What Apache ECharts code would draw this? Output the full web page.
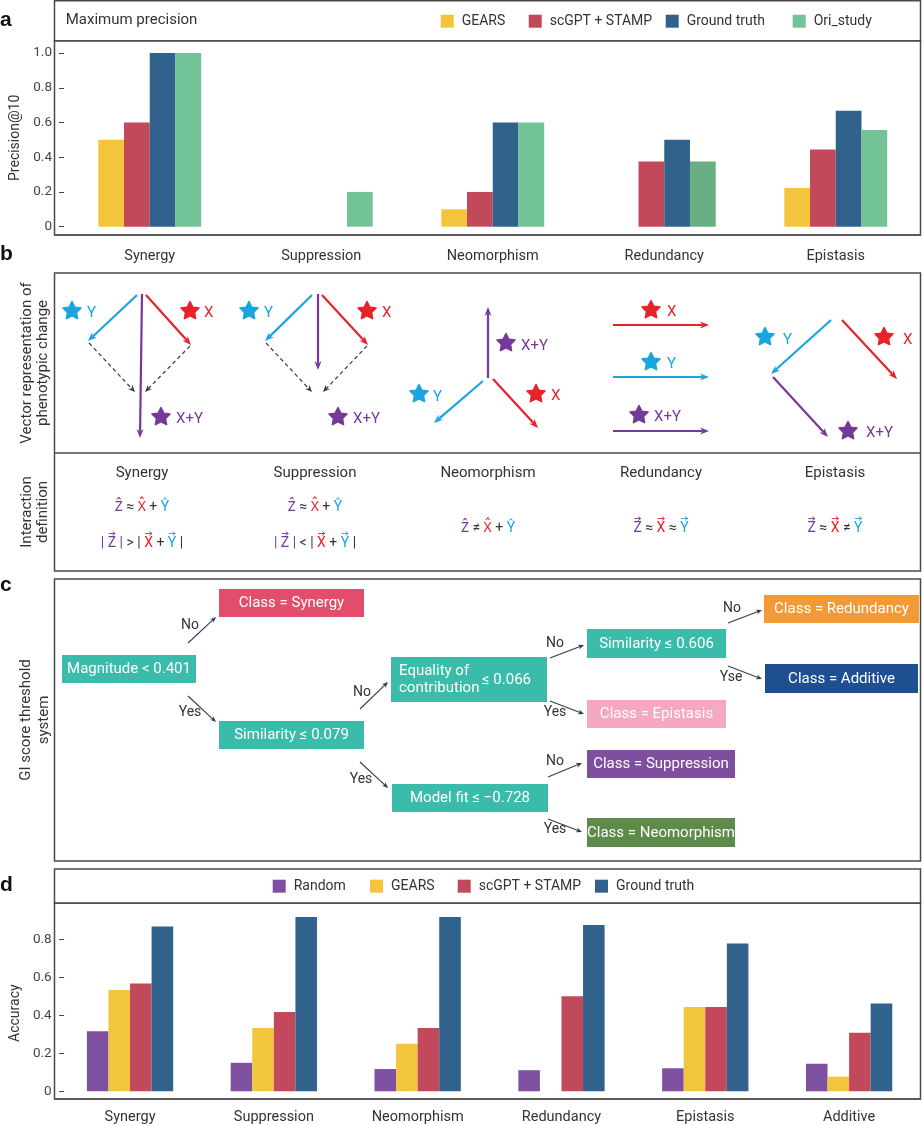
<!DOCTYPE html>
<html><head><meta charset="utf-8">
<script src="https://cdn.jsdelivr.net/npm/echarts@6/dist/echarts.min.js"></script>
<style>html,body{margin:0;padding:0;background:#fff}#c{width:922px;height:1125px}</style>
</head><body><div id="c"></div>
<script>
// ---- data: panel a ----
const catsA = ['Synergy', 'Suppression', 'Neomorphism', 'Redundancy', 'Epistasis'];
const gearsA = [0.5, 0, 0.1, 0, 0.222];
const scgptA = [0.6, 0, 0.2, 0.375, 0.444];
const truthA = [1.0, 0, 0.6, 0.5, 0.667];
const oriA = [1.0, 0.2, 0.6, 0.375, 0.556];
const ticksA = [0, 0.2, 0.4, 0.6, 0.8, 1.0];
// ---- data: panel d ----
const catsD = ['Synergy', 'Suppression', 'Neomorphism', 'Redundancy', 'Epistasis', 'Additive'];
const randomD = [0.316, 0.15, 0.117, 0.111, 0.121, 0.145];
const gearsD = [0.533, 0.333, 0.25, 0, 0.444, 0.077];
const scgptD = [0.567, 0.417, 0.333, 0.5, 0.444, 0.308];
const truthD = [0.867, 0.917, 0.917, 0.875, 0.778, 0.462];
const ticksD = [0, 0.2, 0.4, 0.6, 0.8];

const FONT = 'Roboto, "Noto Sans", sans-serif';
const COL = {gears: '#f2c53d', scgpt: '#c2485b', truth: '#31628c', ori: '#72c395', random: '#7e51a0'};
const PUR = '#76389a', RED = '#e8222a', BLU = '#19a5e0', DARK = '#333';
const TEAL = '#3bbcab';
const BORDER = '#4a4a4a';

function fmt(v) { return v === 0 ? '0' : v.toFixed(1); }

const G = [];
function txt(x, y, text, o) {
  o = o || {};
  G.push({type: 'text', x: x, y: y, rotation: o.rot || 0, z: 10,
    style: {text: text, fill: o.color || DARK, font: (o.weight || 'normal') + ' ' + (o.size || 14) + 'px ' + (o.family || FONT),
      align: o.align || 'center', verticalAlign: 'middle', lineHeight: o.lh || undefined}});
}
function box(x1, y1, x2, y2, lw) {
  G.push({type: 'rect', z: 5, shape: {x: x1, y: y1, width: x2 - x1, height: y2 - y1},
    style: {fill: 'none', stroke: BORDER, lineWidth: lw || 1.5}});
}
function hline(x1, x2, y, lw, col) {
  G.push({type: 'line', z: 6, shape: {x1: x1, y1: y, x2: x2, y2: y}, style: {stroke: col || '#5a5a5a', lineWidth: lw}});
}
function arrow(x1, y1, x2, y2, color, w, L, H, dash) {
  const dx = x2 - x1, dy = y2 - y1, len = Math.hypot(dx, dy), ux = dx / len, uy = dy / len;
  const bx = x2 - ux * L, by = y2 - uy * L;
  G.push({type: 'line', z: 8, shape: {x1: x1, y1: y1, x2: bx + ux * L * 0.3, y2: by + uy * L * 0.3},
    style: {stroke: color, lineWidth: w, lineDash: dash || null}});
  G.push({type: 'polygon', z: 8, shape: {points: [[x2, y2], [bx - uy * H, by + ux * H], [bx + ux * L * 0.3, by + uy * L * 0.3], [bx + uy * H, by - ux * H]]},
    style: {fill: color}});
}
function star(cx, cy, color, R) {
  R = R || 9.5;
  const pts = [];
  for (let i = 0; i < 10; i++) {
    const r = i % 2 === 0 ? R : R * 0.5;
    const a = -Math.PI / 2 + i * Math.PI / 5;
    pts.push([cx + r * Math.cos(a), cy + r * Math.sin(a)]);
  }
  G.push({type: 'polygon', z: 8, shape: {points: pts}, style: {fill: color, stroke: color, lineWidth: 1.5, lineJoin: 'round'}});
}
function slabel(x, y, t, color) { txt(x, y, t, {color: color, align: 'left', size: 15}); }
function fbox(x1, y1, x2, y2, fill, text) {
  G.push({type: 'rect', z: 7, shape: {x: x1, y: y1, width: x2 - x1, height: y2 - y1}, style: {fill: fill}});
  if (text) txt((x1 + x2) / 2, (y1 + y2) / 2 + 0.5, text, {color: '#fff', size: 15});
}
function farrow(x1, y1, x2, y2) { arrow(x1, y1, x2, y2, '#2e3d55', 1.1, 6, 2.6); }

// formula layout: pieces [text, color, isVector]
const mctx = document.createElement('canvas').getContext('2d');
const FSZ = 14;
mctx.font = FSZ + 'px ' + FONT;
function formula(cx, cy, pieces) {
  const widths = pieces.map(p => mctx.measureText(p[0]).width);
  const W = widths.reduce((a, b) => a + b, 0);
  let x = cx - W / 2;
  pieces.forEach((p, i) => {
    G.push({type: 'text', x: x, y: cy, z: 10,
      style: {text: p[0], fill: p[1], font: FSZ + 'px ' + FONT, align: 'left', verticalAlign: 'middle'}});
    if (p[2]) {
      const w = widths[i];
      const ay = cy - 9.5;
      G.push({type: 'line', z: 10, shape: {x1: x + 1, y1: ay, x2: x + w - 1, y2: ay}, style: {stroke: p[1], lineWidth: 0.9}});
      G.push({type: 'polyline', z: 10, shape: {points: [[x + w - 3.5, ay - 2], [x + w - 1, ay], [x + w - 3.5, ay + 2]]}, style: {stroke: p[1], lineWidth: 0.9, fill: 'none'}});
    }
    x += widths[i];
  });
}

// panel letters
const LF = '"Liberation Sans", Arial, sans-serif';
txt(0, 20, 'a', {align: 'left', weight: 'bold', size: 21, family: LF, color: '#111'});
txt(0, 254, 'b', {align: 'left', weight: 'bold', size: 21, family: LF, color: '#111'});
txt(0, 585, 'c', {align: 'left', weight: 'bold', size: 21, family: LF, color: '#111'});
txt(0, 885, 'd', {align: 'left', weight: 'bold', size: 21, family: LF, color: '#111'});

// panel a frames
box(54.5, 0.8, 920.5, 40.7);
box(54.5, 40.7, 920.5, 235);
hline(54.5, 920.5, 235, 2.2);
txt(65.7, 20.5, 'Maximum precision', {align: 'left', size: 15});

// panel b frame
box(54.5, 273, 920.5, 571);
hline(54.5, 920.5, 453, 1.5, BORDER);
txt(35, 363, 'Vector representation of\nphenotypic change', {rot: Math.PI / 2, size: 15, lh: 16.5});
txt(35, 512, 'Interaction\ndefinition', {rot: Math.PI / 2, size: 15, lh: 16.5});

// b: Synergy
arrow(137, 295, 88, 341, BLU, 2.2, 9, 3.5);
arrow(146, 295, 191, 345, RED, 2.2, 9, 3.5);
arrow(142, 294, 140, 438, PUR, 2.2, 9, 3.5);
arrow(89, 343, 135, 392, '#2e3d55', 1.2, 7, 3, [4, 3]);
arrow(190, 346, 145, 392, '#2e3d55', 1.2, 7, 3, [4, 3]);
star(72, 311, BLU); slabel(87, 313, 'Y', BLU);
star(190, 311, RED); slabel(204, 313, 'X', RED);
star(161, 417, PUR); slabel(176, 419, 'X+Y', PUR);
// b: Suppression
arrow(312, 295, 265, 341, BLU, 2.2, 9, 3.5);
arrow(322, 295, 368, 345, RED, 2.2, 9, 3.5);
arrow(318, 294, 318, 370, PUR, 2.2, 9, 3.5);
arrow(266, 343, 312, 392, '#2e3d55', 1.2, 7, 3, [4, 3]);
arrow(367, 346, 323, 392, '#2e3d55', 1.2, 7, 3, [4, 3]);
star(249, 311, BLU); slabel(264, 313, 'Y', BLU);
star(367, 311, RED); slabel(382, 313, 'X', RED);
star(338, 417, PUR); slabel(353, 419, 'X+Y', PUR);
// b: Neomorphism
arrow(488, 378, 488, 307, PUR, 2.2, 9, 3.5);
arrow(493, 379, 538, 428, RED, 2.2, 9, 3.5);
arrow(483, 381, 434, 423, BLU, 2.2, 9, 3.5);
star(419, 394, BLU); slabel(433, 397, 'Y', BLU);
star(506, 343, PUR); slabel(521, 346, 'X+Y', PUR);
star(536, 394, RED); slabel(551, 396, 'X', RED);
// b: Redundancy
arrow(613, 325, 709, 325, RED, 2.2, 9, 3.5);
arrow(613, 377, 709, 377, BLU, 2.2, 9, 3.5);
arrow(613, 431, 709, 431, PUR, 2.2, 9, 3.5);
star(651, 310, RED); slabel(667, 312, 'X', RED);
star(651, 362, BLU); slabel(667, 364, 'Y', BLU);
star(639, 415, PUR); slabel(654, 417, 'X+Y', PUR);
// b: Epistasis
arrow(831, 320, 771, 374, BLU, 2.2, 9, 3.5);
arrow(842, 320, 897, 379, RED, 2.2, 9, 3.5);
arrow(773, 377, 828, 437, PUR, 2.2, 9, 3.5);
star(765, 337, BLU); slabel(783, 340, 'Y', BLU);
star(884, 337, RED); slabel(903, 340, 'X', RED);
star(848, 431, PUR); slabel(866, 433, 'X+Y', PUR);

// b: definitions
const bx = [142, 315, 488, 661, 835];
['Synergy', 'Suppression', 'Neomorphism', 'Redundancy', 'Epistasis'].forEach((n, i) => txt(bx[i], 473, n, {size: 15}));
const HAT = '\u0302';
formula(142, 507, [['Z' + HAT, PUR], [' ≈ ', DARK], ['X' + HAT, RED], [' + ', DARK], ['Y' + HAT, BLU]]);
formula(142, 543, [['| ', PUR], ['Z', PUR, 1], [' |', PUR], [' > | ', DARK], ['X', RED, 1], [' + ', DARK], ['Y', BLU, 1], [' |', DARK]]);
formula(315, 507, [['Z' + HAT, PUR], [' ≈ ', DARK], ['X' + HAT, RED], [' + ', DARK], ['Y' + HAT, BLU]]);
formula(315, 543, [['| ', PUR], ['Z', PUR, 1], [' |', PUR], [' < | ', DARK], ['X', RED, 1], [' + ', DARK], ['Y', BLU, 1], [' |', DARK]]);
formula(488, 528, [['Z' + HAT, PUR], [' ≠ ', DARK], ['X' + HAT, RED], [' + ', DARK], ['Y' + HAT, BLU]]);
formula(661, 528, [['Z', PUR, 1], [' ≈ ', DARK], ['X', RED, 1], [' ≈ ', DARK], ['Y', BLU, 1]]);
formula(835, 528, [['Z', PUR, 1], [' ≈ ', DARK], ['X', RED, 1], [' ≠ ', DARK], ['Y', BLU, 1]]);

// panel c
box(54.5, 579, 920.5, 861);
txt(35, 720, 'GI score threshold\nsystem', {rot: Math.PI / 2, size: 15, lh: 17.5});
fbox(219, 589, 364, 617, '#e34d6c', 'Class = Synergy');
fbox(62, 655, 196, 683, TEAL, 'Magnitude < 0.401');
fbox(219, 721, 364, 749, TEAL, 'Similarity ≤ 0.079');
fbox(391, 657, 547, 702, TEAL, null);
txt(399, 671, 'Equality of', {color: '#fff', size: 15, align: 'left'});
txt(399, 688, 'contribution', {color: '#fff', size: 15, align: 'left'});
txt(482, 680, '≤ 0.066', {color: '#fff', size: 15, align: 'left'});
fbox(392, 784, 548, 812, TEAL, 'Model fit ≤ −0.728');
fbox(587, 629, 726, 658, TEAL, 'Similarity ≤ 0.606');
fbox(587, 700, 726, 728, '#f4a8c1', 'Class = Epistasis');
fbox(587, 750, 735, 778, '#7e4f9f', 'Class = Suppression');
fbox(587, 818, 735, 847, '#5e8b4a', 'Class = Neomorphism');
fbox(764, 595, 919, 623, '#f39a36', 'Class = Redundancy');
fbox(765, 664, 918, 693, '#1d4f91', 'Class = Additive');
farrow(188, 643, 216, 617); txt(190, 625, 'No');
farrow(188, 696, 216, 722); txt(190, 712, 'Yes');
farrow(360, 709, 388, 682); txt(362, 692, 'No');
farrow(360, 762, 388, 788); txt(361, 779, 'Yes');
farrow(550, 658, 584, 645); txt(555, 643, 'No');
farrow(550, 701, 584, 714); txt(555, 712, 'Yes');
farrow(548, 777, 582, 763); txt(555, 761, 'No');
farrow(548, 819, 582, 832); txt(555, 829, 'Yes');
farrow(728, 623, 762, 610); txt(732, 608, 'No');
farrow(728, 666, 762, 679); txt(731, 677, 'Yse');

// panel d frames
box(54.5, 869, 920.5, 903.3);
box(54.5, 903.3, 920.5, 1099);
hline(54.5, 920.5, 1099, 2.2);

function legendItem(name, left, top) {
  return {data: [name], left: left, top: top, padding: 0, itemWidth: 13, itemHeight: 13, icon: 'rect',
    selectedMode: false, textStyle: {fontSize: 14, fontFamily: FONT, color: DARK, lineHeight: 14, padding: [0, 0, 0, 3]}};
}
const axLabel = {fontSize: 13.5, fontFamily: FONT, color: '#444'};
const catLabel = {fontSize: 14.5, fontFamily: FONT, color: DARK};

const option = {
  animation: false,
  backgroundColor: '#fff',
  legend: [
    legendItem('GEARS', 440.7, 14.2), legendItem('scGPT + STAMP', 528.7, 14.2),
    legendItem('Ground truth', 665.7, 14.2), legendItem('Ori_study', 792.7, 14.2),
    legendItem('Random', 272.7, 879.2), legendItem('GEARS', 370, 879.2),
    legendItem('scGPT + STAMP', 457.7, 879.2), legendItem('Ground truth', 595, 879.2)
  ],
  grid: [
    {left: 54.5, top: 40.7, width: 867, height: 194.3},
    {left: 48.3, top: 903.3, width: 872.7, height: 195.7}
  ],
  xAxis: [
    {gridIndex: 0, type: 'category', data: catsA, axisLine: {show: false}, axisTick: {show: false},
      axisLabel: Object.assign({margin: 14}, catLabel)},
    {gridIndex: 1, type: 'category', data: catsD, axisLine: {show: false}, axisTick: {show: false},
      axisLabel: Object.assign({margin: 11}, catLabel)}
  ],
  yAxis: [
    {gridIndex: 0, type: 'value', min: -0.048, max: 1.071, axisLine: {show: false}, splitLine: {show: false},
      axisTick: {show: true, length: 5, lineStyle: {color: '#444'}, customValues: ticksA},
      axisLabel: Object.assign({customValues: ticksA, formatter: fmt, margin: 12}, axLabel),
      name: 'Precision@10', nameLocation: 'middle', nameGap: 42,
      nameTextStyle: {fontSize: 14, fontFamily: FONT, color: DARK}},
    {gridIndex: 1, type: 'value', offset: -6, min: -0.0405, max: 0.989, axisLine: {show: false}, splitLine: {show: false},
      axisTick: {show: true, length: 5, lineStyle: {color: '#444'}, customValues: ticksD},
      axisLabel: Object.assign({customValues: ticksD, formatter: fmt, margin: 12.5}, axLabel),
      name: 'Accuracy', nameLocation: 'middle', nameGap: 42,
      nameTextStyle: {fontSize: 14, fontFamily: FONT, color: DARK, padding: [0, 24, 0, 0]}}
  ],
  series: [
    {name: 'GEARS', type: 'bar', xAxisIndex: 0, yAxisIndex: 0, data: gearsA, itemStyle: {color: COL.gears}, barGap: '0%', barCategoryGap: '40%'},
    {name: 'scGPT + STAMP', type: 'bar', xAxisIndex: 0, yAxisIndex: 0, data: scgptA, itemStyle: {color: COL.scgpt}},
    {name: 'Ground truth', type: 'bar', xAxisIndex: 0, yAxisIndex: 0, data: truthA, itemStyle: {color: COL.truth}},
    {name: 'Ori_study', type: 'bar', xAxisIndex: 0, yAxisIndex: 0,
      data: oriA.map((v, i) => i === 3 ? {value: v, itemStyle: {color: '#6aaf84'}} : v), itemStyle: {color: COL.ori}},
    {name: 'Random', type: 'bar', xAxisIndex: 1, yAxisIndex: 1, data: randomD, itemStyle: {color: COL.random}, barGap: '0%', barCategoryGap: '40%'},
    {name: 'GEARS', type: 'bar', xAxisIndex: 1, yAxisIndex: 1, data: gearsD, itemStyle: {color: COL.gears}},
    {name: 'scGPT + STAMP', type: 'bar', xAxisIndex: 1, yAxisIndex: 1, data: scgptD, itemStyle: {color: COL.scgpt}},
    {name: 'Ground truth', type: 'bar', xAxisIndex: 1, yAxisIndex: 1, data: truthD, itemStyle: {color: COL.truth}}
  ],
  graphic: {elements: G}
};
const chart = echarts.init(document.getElementById('c'), null, {renderer: 'canvas'});
chart.setOption(option);
</script>
</body></html>
